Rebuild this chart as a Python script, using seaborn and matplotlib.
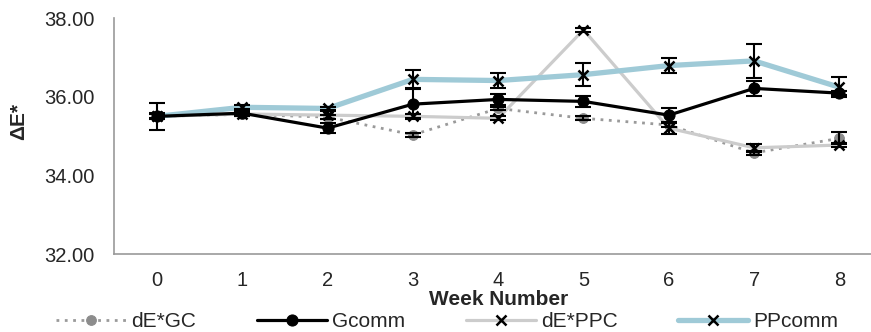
import numpy as np
import pandas as pd
import matplotlib
matplotlib.use("Agg")
import matplotlib.pyplot as plt
import seaborn as sns

weeks = [0, 1, 2, 3, 4, 5, 6, 7, 8]
week_labels = ["0", "1", "2", "3", "4", "5", "6", "7", "8"]
de_gc = [35.50, 35.55, 35.48, 35.03, 35.70, 35.45, 35.28, 34.57, 34.94]
gcomm = [35.50, 35.58, 35.20, 35.81, 35.93, 35.88, 35.53, 36.21, 36.09]
de_ppc = [35.50, 35.56, 35.53, 35.50, 35.45, 37.70, 35.20, 34.70, 34.77]
ppcomm = [35.50, 35.73, 35.70, 36.44, 36.41, 36.56, 36.79, 36.91, 36.24]
de_gc_err = [0.05, 0.05, 0.05, 0.05, 0.05, 0.05, 0.05, 0.05, 0.15]
gcomm_err = [0.08, 0.05, 0.12, 0.38, 0.15, 0.13, 0.18, 0.20, 0.05]
de_ppc_err = [0.05, 0.05, 0.10, 0.05, 0.05, 0.05, 0.15, 0.10, 0.05]
ppcomm_err = [0.34, 0.05, 0.05, 0.23, 0.18, 0.30, 0.20, 0.43, 0.25]
yticks = [32, 34, 36, 38]

sns.set_theme(style="white")
plt.rcParams['font.family'] = ['Liberation Sans', 'DejaVu Sans']

fig = plt.figure(figsize=(8.71, 3.32), dpi=100)
ax = fig.add_axes([114.4 / 871, (332 - 254) / 332, (882 - 114.4) / 871, (254 - 18) / 332])

series = [
    ("dE*GC", de_gc, de_gc_err, dict(color="#9a9a9a", linestyle=(0, (1, 2)), linewidth=2,
                                      marker="o", markersize=7, markerfacecolor="#8c8c8c",
                                      markeredgecolor="#8c8c8c")),
    ("dE*PPC", de_ppc, de_ppc_err, dict(color="#cccccc", linestyle="-", linewidth=2.3,
                                        marker="x", markersize=7, markeredgecolor="black",
                                        markeredgewidth=1.8)),
    ("PPcomm", ppcomm, ppcomm_err, dict(color="#9fcad7", linestyle="-", linewidth=3.8,
                                        marker="x", markersize=7, markeredgecolor="black",
                                        markeredgewidth=1.8)),
    ("Gcomm", gcomm, gcomm_err, dict(color="black", linestyle="-", linewidth=2.3,
                                     marker="o", markersize=8, markerfacecolor="black",
                                     markeredgecolor="black")),
]

for name, vals, err, st in series:
    df = pd.DataFrame({"week": weeks, "val": vals})
    sns.lineplot(data=df, x="week", y="val", ax=ax, label=name, **st)
    ax.errorbar(weeks, vals, yerr=err, fmt="none", ecolor="black", elinewidth=1.5,
                capsize=6, capthick=1.5, zorder=5)

ax.set_xlim(-0.5, 8.5)
ax.set_ylim(32, 38)
ax.set_xticks(weeks)
ax.set_xticklabels(week_labels)
ax.set_yticks(yticks)
ax.set_yticklabels([f"{v:.2f}" for v in yticks])
ax.tick_params(axis="both", labelsize=14.5, length=0)
ax.tick_params(axis="y", pad=14.5)
ax.tick_params(axis="x", pad=12)
ax.set_xlabel("Week Number", fontsize=15, fontweight="bold", labelpad=0)
ax.set_ylabel("ΔE*", fontsize=15, fontweight="bold")
ax.yaxis.set_label_coords(-86 / 767.6, 0.56)
for s in ["top", "right"]:
    ax.spines[s].set_visible(False)
for s in ["left", "bottom"]:
    ax.spines[s].set_color("#999999")
    ax.spines[s].set_linewidth(1.2)

h, l = ax.get_legend_handles_labels()
order = ["dE*GC", "Gcomm", "dE*PPC", "PPcomm"]
hh = [h[l.index(o)] for o in order]
ax.legend_.remove()
fig.legend(hh, order, loc="center left", bbox_to_anchor=(56 / 871, 0.031), ncol=4,
           frameon=False, fontsize=15, handlelength=3.37, handletextpad=0.25,
           columnspacing=2.9, borderaxespad=0, borderpad=0)

fig.savefig("out.png", dpi=100)
